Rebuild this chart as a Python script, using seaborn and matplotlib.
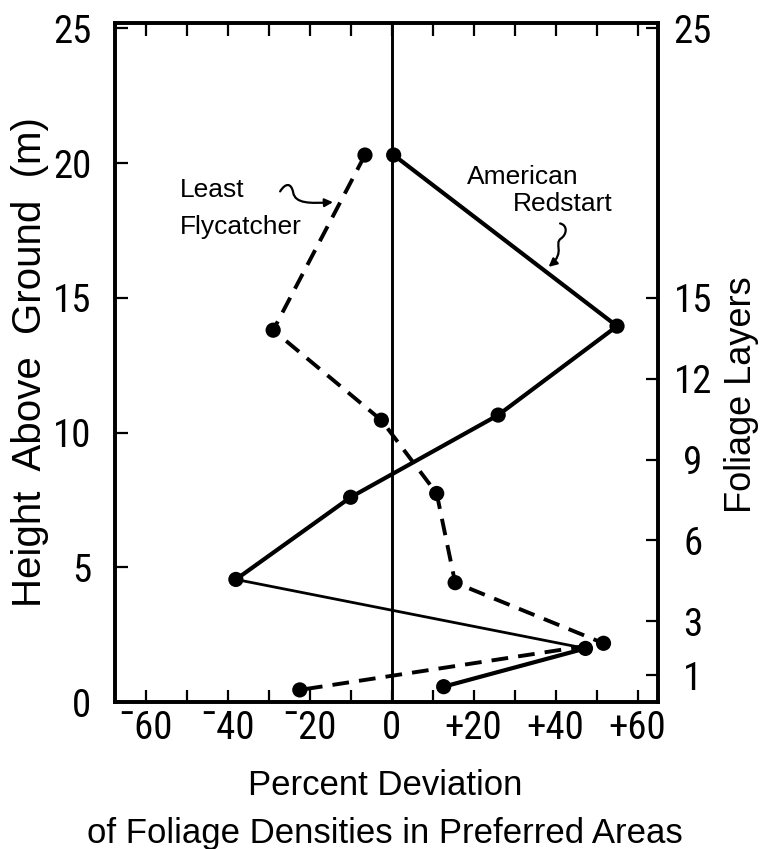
import matplotlib
matplotlib.use("Agg")
import matplotlib.pyplot as plt
import numpy as np
import pandas as pd
import seaborn as sns
from matplotlib import font_manager
from matplotlib.font_manager import FontProperties
from matplotlib.path import Path
from matplotlib.patches import FancyArrowPatch

# ---------------- data ----------------
redstart_height = [20.3, 13.95, 10.65, 7.6, 4.55, 1.99, 0.57]
redstart_dev = [0.5, 55.0, 26.0, -10.0, -38.0, 47.3, 12.7]
flycatcher_height = [20.3, 13.8, 10.46, 7.74, 4.43, 2.18, 0.45]
flycatcher_dev = [-6.5, -28.9, -2.5, 11.0, 15.5, 51.7, -22.4]

x_ticks = list(range(-60, 61, 10))
x_tick_labels = ["¯60", "", "¯40", "", "¯20", "", "0", "", "+20", "", "+40", "", "+60"]
y_ticks = [0, 5, 10, 15, 20, 25]
y_tick_labels = ["0", "5", "10", "15", "20", "25"]
layer_ticks = [1, 3, 6, 9, 12, 15, 25]
layer_labels = ["1", "3", "6", "9", "12", "15", "25"]

red = pd.DataFrame({"deviation": redstart_dev, "height": redstart_height})
fly = pd.DataFrame({"deviation": flycatcher_dev, "height": flycatcher_height})

# ---------------- style ----------------
sns.set_style("white")
label_family = ["Liberation Sans", "DejaVu Sans"]
plt.rcParams["font.family"] = label_family
plt.rcParams["text.color"] = "black"
plt.rcParams["axes.labelcolor"] = "black"
plt.rcParams["xtick.color"] = "black"
plt.rcParams["ytick.color"] = "black"

# look for a condensed face for the tick numbers
cond_stretch = {"condensed", "semi-condensed", "extra-condensed", "ultra-condensed"}
tick_font = None
pref = ["Liberation Sans Narrow", "Roboto Condensed", "Open Sans Condensed",
        "Noto Sans Condensed", "DejaVu Sans Condensed", "Noto Sans", "DejaVu Sans",
        "Roboto", "Open Sans"]
cands = []
for f in font_manager.fontManager.ttflist:
    st = str(f.stretch).lower()
    condensed = (st in cond_stretch) or ("Narrow" in f.name) or ("Condensed" in f.name) \
        or ("ondensed" in f.fname) or ("Narrow" in f.fname)
    if condensed and str(f.weight) in ("400", "normal", "regular", "book") \
            and f.style == "normal" and "Oblique" not in f.fname and "Italic" not in f.fname:
        cands.append(f)
for p in pref:
    for f in cands:
        if f.name == p:
            tick_font = f
            break
    if tick_font is not None:
        break
if tick_font is None and cands:
    tick_font = cands[0]

if tick_font is not None:
    tick_fp = FontProperties(fname=tick_font.fname, size=28)
else:
    tick_fp = FontProperties(family=["Liberation Sans", "DejaVu Sans"], size=26)

fig = plt.figure(figsize=(7.67, 8.49), dpi=100)
ax = fig.add_axes([0.1499, 0.1731, 0.708, 0.7998])

# zero line
ax.axvline(0, color="black", lw=2.1, zorder=2)

# American Redstart (solid); the long segment is thinner in the original
sns.lineplot(data=red.iloc[0:5], x="deviation", y="height", sort=False,
             estimator=None, color="black", lw=3.0, ax=ax, zorder=3)
sns.lineplot(data=red.iloc[4:6], x="deviation", y="height", sort=False,
             estimator=None, color="black", lw=2.0, ax=ax, zorder=3)
sns.lineplot(data=red.iloc[5:7], x="deviation", y="height", sort=False,
             estimator=None, color="black", lw=3.0, ax=ax, zorder=3)
sns.scatterplot(data=red, x="deviation", y="height", s=120, color="black",
                edgecolor="none", ax=ax, zorder=4)

# Least Flycatcher (dashed)
sns.lineplot(data=fly, x="deviation", y="height", sort=False, estimator=None,
             color="black", lw=2.8, linestyle=(0, (4.3, 2.6)), ax=ax, zorder=3)
sns.scatterplot(data=fly, x="deviation", y="height", s=120, color="black",
                edgecolor="none", ax=ax, zorder=4)

ax.set_xlim(-67.5, 65)
ax.set_ylim(0, 25.2)
ax.set_xlabel("")
ax.set_ylabel("")

ax.set_xticks(x_ticks)
ax.set_xticklabels(x_tick_labels)
ax.set_yticks(y_ticks)
ax.set_yticklabels(y_tick_labels)
for lab in ax.get_xticklabels() + ax.get_yticklabels():
    lab.set_fontproperties(tick_fp)
    lab.set_color("black")
ax.tick_params(axis="x", which="major", direction="in", length=9, width=1.6,
               top=True, bottom=True, labeltop=False, pad=6, colors="black")
ax.tick_params(axis="y", which="major", direction="in", length=9, width=1.6,
               left=True, right=False, pad=17, colors="black")
for s in ax.spines.values():
    s.set_visible(True)
    s.set_linewidth(2.6)
    s.set_color("black")

# right axis: foliage layers
ax2 = ax.twinx()
ax2.set_ylim(ax.get_ylim())
ax2.set_yticks(layer_ticks)
ax2.set_yticklabels(layer_labels, ha="center")
for lab in ax2.get_yticklabels():
    lab.set_fontproperties(tick_fp)
    lab.set_color("black")
ax2.tick_params(axis="y", direction="in", length=9, width=1.6, pad=25, colors="black")
for s in ax2.spines.values():
    s.set_linewidth(2.6)
    s.set_color("black")

# series annotations
ann = dict(fontsize=19, color="black", va="center", ha="left")
ax.text(-51.6, 19.0, "Least", **ann)
ax.text(-51.6, 17.62, "Flycatcher", **ann)
ax.text(18.4, 19.47, "American", **ann)
ax.text(29.6, 18.47, "Redstart", **ann)

fly_arrow = Path(
    [(-27.2, 18.95), (-26.0, 19.25), (-24.5, 19.3), (-24.0, 18.9),
     (-23.5, 18.5), (-20.0, 18.5), (-14.3, 18.55)],
    [Path.MOVETO, Path.CURVE4, Path.CURVE4, Path.CURVE4,
     Path.CURVE4, Path.CURVE4, Path.CURVE4])
ax.add_patch(FancyArrowPatch(path=fly_arrow, arrowstyle="-|>", mutation_scale=12,
                             lw=1.6, color="black", transform=ax.transData, zorder=5))

red_arrow = Path(
    [(41.1, 17.76), (43.0, 17.7), (42.8, 17.35), (41.3, 17.2),
     (39.5, 17.0), (42.5, 16.7), (38.3, 16.15)],
    [Path.MOVETO, Path.CURVE4, Path.CURVE4, Path.CURVE4,
     Path.CURVE4, Path.CURVE4, Path.CURVE4])
ax.add_patch(FancyArrowPatch(path=red_arrow, arrowstyle="-|>", mutation_scale=12,
                             lw=1.6, color="black", transform=ax.transData, zorder=5))

# axis titles
fig.text(0.039, 0.574, "Height  Above  Ground  (m)", rotation=90, fontsize=29,
         ha="center", va="center", color="black")
fig.text(0.967, 0.535, "Foliage Layers", rotation=90, fontsize=26,
         ha="center", va="center", color="black")
fig.text(0.502, 0.0636, "Percent Deviation", fontsize=25, ha="center",
         va="baseline", color="black")
fig.text(0.502, 0.0075, "of Foliage Densities in Preferred Areas", fontsize=25,
         ha="center", va="baseline", color="black")

fig.savefig("out.png", dpi=100)
